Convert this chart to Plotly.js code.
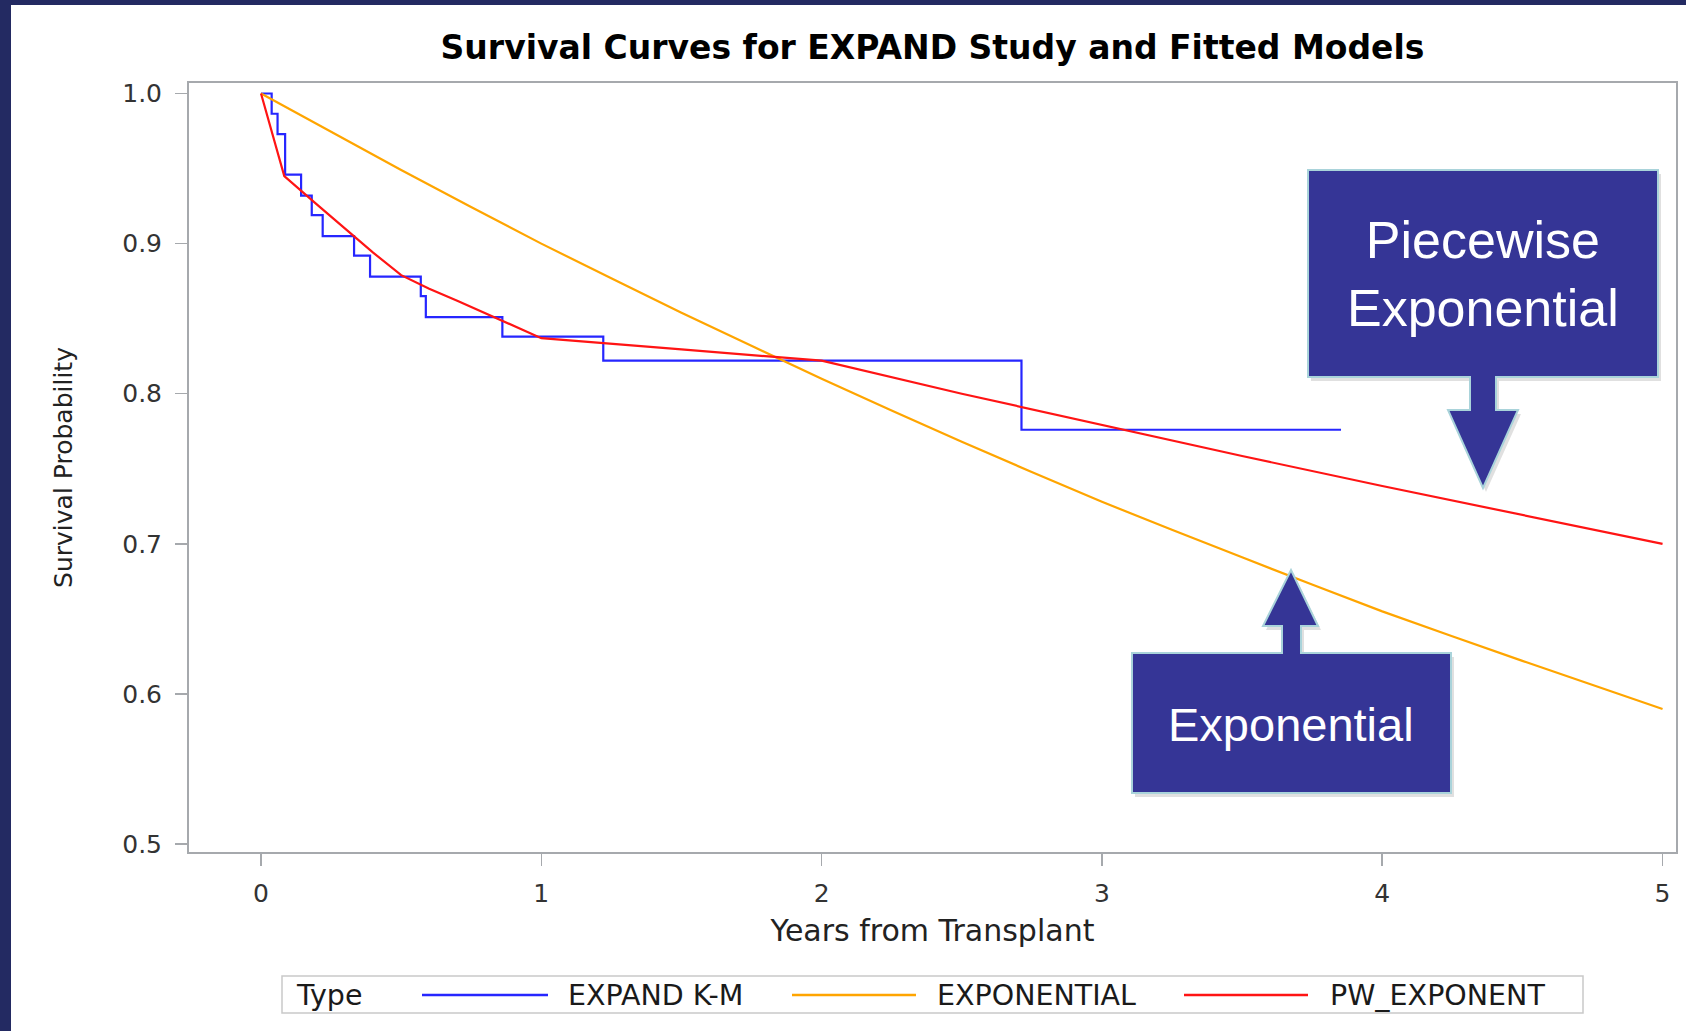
<!DOCTYPE html>
<html>
<head>
<meta charset="utf-8">
<script src="https://cdn.plot.ly/plotly-3.0.1.min.js"></script>
<style>
  html, body { margin:0; padding:0; width:1686px; height:1031px; overflow:hidden; background:#232a62; }
  #plot { position:absolute; left:11px; top:5px; width:1675px; height:1026px; background:#fff; }
</style>
</head>
<body>
<div id="plot"></div>
<script>
// ---------- data ----------
const seriesNames = ['EXPAND K-M', 'EXPONENTIAL', 'PW_EXPONENT'];
const seriesColors = ['#2626ff', '#ffa500', '#ff1414'];

// Kaplan-Meier step function (EXPAND study)
const kmTime = [0, 0.038, 0.059, 0.086, 0.143, 0.181, 0.220, 0.332, 0.389, 0.570, 0.588, 0.861, 1.221, 2.713, 3.853];
const kmSurv = [1.000, 0.9865, 0.973, 0.946, 0.932, 0.919, 0.905, 0.892, 0.878, 0.865, 0.851, 0.838, 0.822, 0.776, 0.776];

// Fitted exponential model
const expTime = [0, 0.5, 1.0, 1.5, 2.0, 2.5, 3.0, 3.5, 4.0, 4.5, 5.0];
const expSurv = [1.000, 0.949, 0.900, 0.854, 0.810, 0.768, 0.728, 0.691, 0.655, 0.622, 0.590];

// Fitted piecewise exponential model
const pwTime = [0, 0.02, 0.04, 0.06, 0.083, 0.2, 0.3, 0.4, 0.5, 0.6, 0.7, 0.8, 0.9, 1.0, 1.5, 2.0, 2.5, 3.0, 3.5, 4.0, 4.5, 5.0];
const pwSurv = [1.000, 0.9865, 0.973, 0.960, 0.945, 0.926, 0.910, 0.894, 0.879, 0.870, 0.862, 0.8535, 0.845, 0.837, 0.8295, 0.822, 0.800, 0.779, 0.7585, 0.7385, 0.719, 0.700];

const xTickVals = [0, 1, 2, 3, 4, 5];
const xTickText = ['0', '1', '2', '3', '4', '5'];
const yTickVals = [0.5, 0.6, 0.7, 0.8, 0.9, 1.0];
const yTickText = ['0.5', '0.6', '0.7', '0.8', '0.9', '1.0'];

const chartTitle = 'Survival Curves for EXPAND Study and Fitted Models';
const xTitle = 'Years from Transplant';
const yTitle = 'Survival Probability';
const legendTitle = 'Type';
const calloutPW = 'Piecewise<br>Exponential';
const calloutExp = 'Exponential';

// ---------- layout helpers (page pixels -> paper coords) ----------
const OFFX = 11, OFFY = 5;
const PL = 189, PR = 1676, PT = 83, PB = 852;
const px = x => (x - PL) / (PR - PL);
const py = y => (PB - y) / (PB - PT);
function pathFrom(points) {
  return 'M' + points.map(p => px(p[0]).toFixed(5) + ',' + py(p[1]).toFixed(5)).join(' L') + ' Z';
}

const traces = [
  { x: kmTime, y: kmSurv, name: seriesNames[0], mode: 'lines', line: { color: seriesColors[0], width: 2.2, shape: 'hv' } },
  { x: expTime, y: expSurv, name: seriesNames[1], mode: 'lines', line: { color: seriesColors[1], width: 2.2, shape: 'spline', smoothing: 0.6 } },
  { x: pwTime, y: pwSurv, name: seriesNames[2], mode: 'lines', line: { color: seriesColors[2], width: 2.2 } }
];

const boxFill = '#353596';
const boxLine = '#a9d3da';
const pwPoly = [[1308,170],[1658,170],[1658,377],[1496,377],[1496,410],[1518,410],[1483,488],[1448,410],[1470,410],[1470,377],[1308,377]];
const exPoly = [[1132,653],[1282,653],[1282,626],[1263,626],[1291,570],[1318,626],[1301,626],[1301,653],[1451,653],[1451,793],[1132,793]];
const shift = (poly, dx, dy) => poly.map(p => [p[0] + dx, p[1] + dy]);

const shapes = [
  { type:'path', xref:'paper', yref:'paper', path: pathFrom(shift(pwPoly, 3, 4)), fillcolor:'rgba(0,0,0,0.12)', line:{width:0} },
  { type:'path', xref:'paper', yref:'paper', path: pathFrom(pwPoly), fillcolor: boxFill, line:{color: boxLine, width:2} },
  { type:'path', xref:'paper', yref:'paper', path: pathFrom(shift(exPoly, 3, 4)), fillcolor:'rgba(0,0,0,0.12)', line:{width:0} },
  { type:'path', xref:'paper', yref:'paper', path: pathFrom(exPoly), fillcolor: boxFill, line:{color: boxLine, width:2} },
  // legend frame
  { type:'rect', xref:'paper', yref:'paper', x0: px(282), x1: px(1583), y0: py(976), y1: py(1013), line:{color:'#c9c9c9', width:1.5}, fillcolor:'rgba(0,0,0,0)' }
];

// custom legend: sample lines + labels
const legLines = [[422, 548], [792, 916], [1184, 1308]];
const legText = [566, 935, 1328];
const legY = 995;
legLines.forEach((seg, i) => {
  shapes.push({ type:'line', xref:'paper', yref:'paper', x0: px(seg[0]), x1: px(seg[1]), y0: py(legY), y1: py(legY), line:{ color: seriesColors[i], width: 2.5 } });
});

const textFont = { family: 'DejaVu Sans, Arial, sans-serif', size: 28.5, color: '#1a1a1a' };
const annotations = [
  { xref:'paper', yref:'paper', x: px(1483), y: py(274), text: calloutPW, showarrow:false, xanchor:'center', yanchor:'middle',
    font:{ family:'Liberation Sans, Arial, sans-serif', size:52, color:'#ffffff' } },
  { xref:'paper', yref:'paper', x: px(1291), y: py(724), text: calloutExp, showarrow:false, xanchor:'center', yanchor:'middle',
    font:{ family:'Liberation Sans, Arial, sans-serif', size:47, color:'#ffffff' } },
  { xref:'paper', yref:'paper', x: px(294), y: py(legY), text: legendTitle, showarrow:false, xanchor:'left', yanchor:'middle', font: textFont }
];
seriesNames.forEach((n, i) => {
  annotations.push({ xref:'paper', yref:'paper', x: px(legText[i]), y: py(legY), text: n, showarrow:false, xanchor:'left', yanchor:'middle', font: textFont });
});

const axisCommon = {
  showline: true, mirror: true, linecolor: '#a6a9ad', linewidth: 2,
  ticks: 'outside', ticklen: 12, tickwidth: 1.5, tickcolor: '#a6a9ad',
  showgrid: false, zeroline: false,
  tickfont: { family: 'DejaVu Sans, Arial, sans-serif', size: 25, color: '#333333' }
};

const layout = {
  width: 1675, height: 1026,
  margin: { l: PL - OFFX, r: 1675 - (PR - OFFX), t: PT - OFFY, b: 1026 - (PB - OFFY), pad: 0 },
  paper_bgcolor: '#ffffff', plot_bgcolor: '#ffffff',
  showlegend: false,
  title: { text: '<b>' + chartTitle + '</b>', font: { family: 'DejaVu Sans, Arial, sans-serif', size: 33, color: '#000000' },
           xref: 'paper', x: 0.5, xanchor: 'center', yref: 'container', y: 1 - (47 - OFFY) / 1026, yanchor: 'middle' },
  xaxis: Object.assign({}, axisCommon, {
    range: [-0.2569, 5.048], tickvals: xTickVals, ticktext: xTickText, ticklabelstandoff: 6,
    title: { text: xTitle, font: { family: 'DejaVu Sans, Arial, sans-serif', size: 30, color: '#222222' }, standoff: 13 }
  }),
  yaxis: Object.assign({}, axisCommon, {
    range: [0.4947, 1.007], tickvals: yTickVals, ticktext: yTickText, ticklabelstandoff: 8,
    title: { text: yTitle, font: { family: 'DejaVu Sans, Arial, sans-serif', size: 25, color: '#222222' }, standoff: 42 }
  }),
  shapes: shapes,
  annotations: annotations
};

Plotly.newPlot('plot', traces, layout, { staticPlot: true, displayModeBar: false });
</script>
</body>
</html>
